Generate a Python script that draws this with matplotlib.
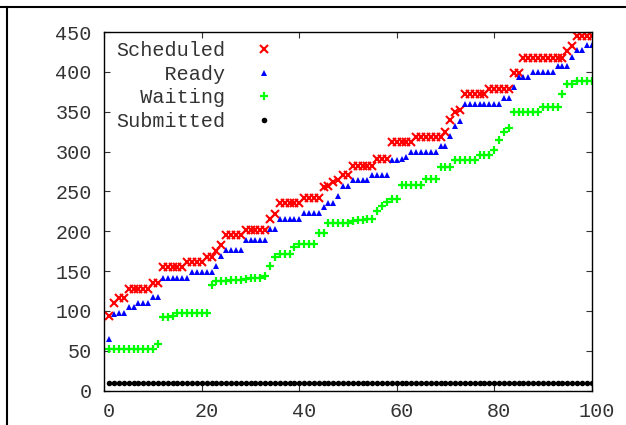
import numpy as np
import matplotlib
matplotlib.use('Agg')
from matplotlib import pyplot as plt
from matplotlib.lines import Line2D
from matplotlib.transforms import ScaledTranslation


# Job index (1..100)
jobs = np.arange(1, 101)

# Per-job timestamps for each state
scheduled = (
    [94, 110, 116, 116] + [128] * 5 + [135] * 2 + [155] * 5 + [162] * 4
    + [168] * 2 + [175, 183] + [195] * 4 + [202] * 5 + [216, 222]
    + [235] * 5 + [242] * 4 + [255, 257, 262, 264, 270, 271] + [282] * 5
    + [291] * 3 + [312] * 5 + [318] * 6 + [325, 340, 350, 352] + [372] * 5
    + [379] * 5 + [399] * 2 + [418] * 9 + [426, 432] + [445] * 4
)
ready = (
    [65, 96, 97, 98] + [105] * 2 + [110] * 3 + [117] * 2 + [142] * 6
    + [149] * 5 + [156, 169] + [177] * 4 + [189] * 5 + [203] * 2
    + [216] * 5 + [223] * 4 + [231] + [236] * 2 + [244] + [257] * 2
    + [264] * 4 + [271] * 4 + [289, 290, 291, 293] + [300] * 6 + [307] * 2
    + [320, 332, 338] + [360] * 8 + [367] * 2 + [381] + [394] * 3
    + [400] * 5 + [407] * 3 + [419] + [427] * 2 + [434] * 2
)
waiting = (
    [52] * 10 + [58, 92, 92, 94] + [98] * 7 + [132]
    + [137, 138, 138, 139, 139, 139, 140, 141, 141, 142, 144]
    + [157, 168, 171, 171, 171, 180] + [184] * 4 + [198] * 2 + [210] * 5
    + [213, 214, 214, 215, 216, 226, 232, 237] + [240] * 2 + [258] * 5
    + [266] * 3 + [281] * 3 + [289] * 5 + [296] * 3 + [302, 315, 325, 330]
    + [350] * 6 + [356] * 4 + [372] + [385] * 2 + [388] * 4
)
submitted = [10] * 100

labels = ['Scheduled', 'Ready', 'Waiting', 'Submitted']
styles = [
    dict(marker='x', color='#ff0000', ms=5.5, mew=1.5),
    dict(marker='^', color='#0000ff', ms=4, mew=0),
    dict(marker='+', color='#00ff00', ms=6, mew=1.6),
    dict(marker='o', color='#000000', ms=4, mew=0),
]

text_color = '#333333'
plt.rcParams['font.family'] = ['Liberation Mono', 'DejaVu Sans Mono']
plt.rcParams['font.size'] = 14.5

fig = plt.figure(figsize=(6.26, 4.25), dpi=100)
ax = fig.add_axes([0.1666, 0.0807, 0.7786, 0.844])

# monospace font, so padding right-aligns the key labels
width = max(len(s) for s in labels)
for label, values, style in zip(labels, [scheduled, ready, waiting, submitted], styles):
    ax.plot(jobs, values, linestyle='none', label=label.rjust(width), **style)

ax.set_xlim(0, 100)
ax.set_ylim(0, 450)
ax.set_xticks(np.arange(0, 101, 20))
ax.set_yticks(np.arange(0, 451, 50))
ax.tick_params(direction='in', length=4, width=0.8, top=True, right=True,
               colors=text_color, labelcolor=text_color)
ax.tick_params(axis='x', pad=8)
ax.tick_params(axis='y', pad=9)
for spine in ax.spines.values():
    spine.set_linewidth(1.0)
    spine.set_color('black')

# x labels sit a little right of their ticks
shift = ScaledTranslation(5 / 100, 0, fig.dpi_scale_trans)
for lab in ax.get_xticklabels():
    lab.set_transform(lab.get_transform() + shift)

leg = ax.legend(loc='upper left', bbox_to_anchor=(0.024, 0.974), frameon=False,
                markerfirst=False, handletextpad=0.95, handlelength=2.0,
                labelspacing=0.22, borderpad=0, borderaxespad=0)
for t in leg.get_texts():
    t.set_color(text_color)

# outer frame edges
fig.add_artist(Line2D([0, 1], [0.9842, 0.9842], transform=fig.transFigure,
                      color='black', lw=1.5))
fig.add_artist(Line2D([0.0107, 0.0107], [0, 0.9842], transform=fig.transFigure,
                      color='black', lw=1.5))

fig.savefig('out.png', dpi=100)
